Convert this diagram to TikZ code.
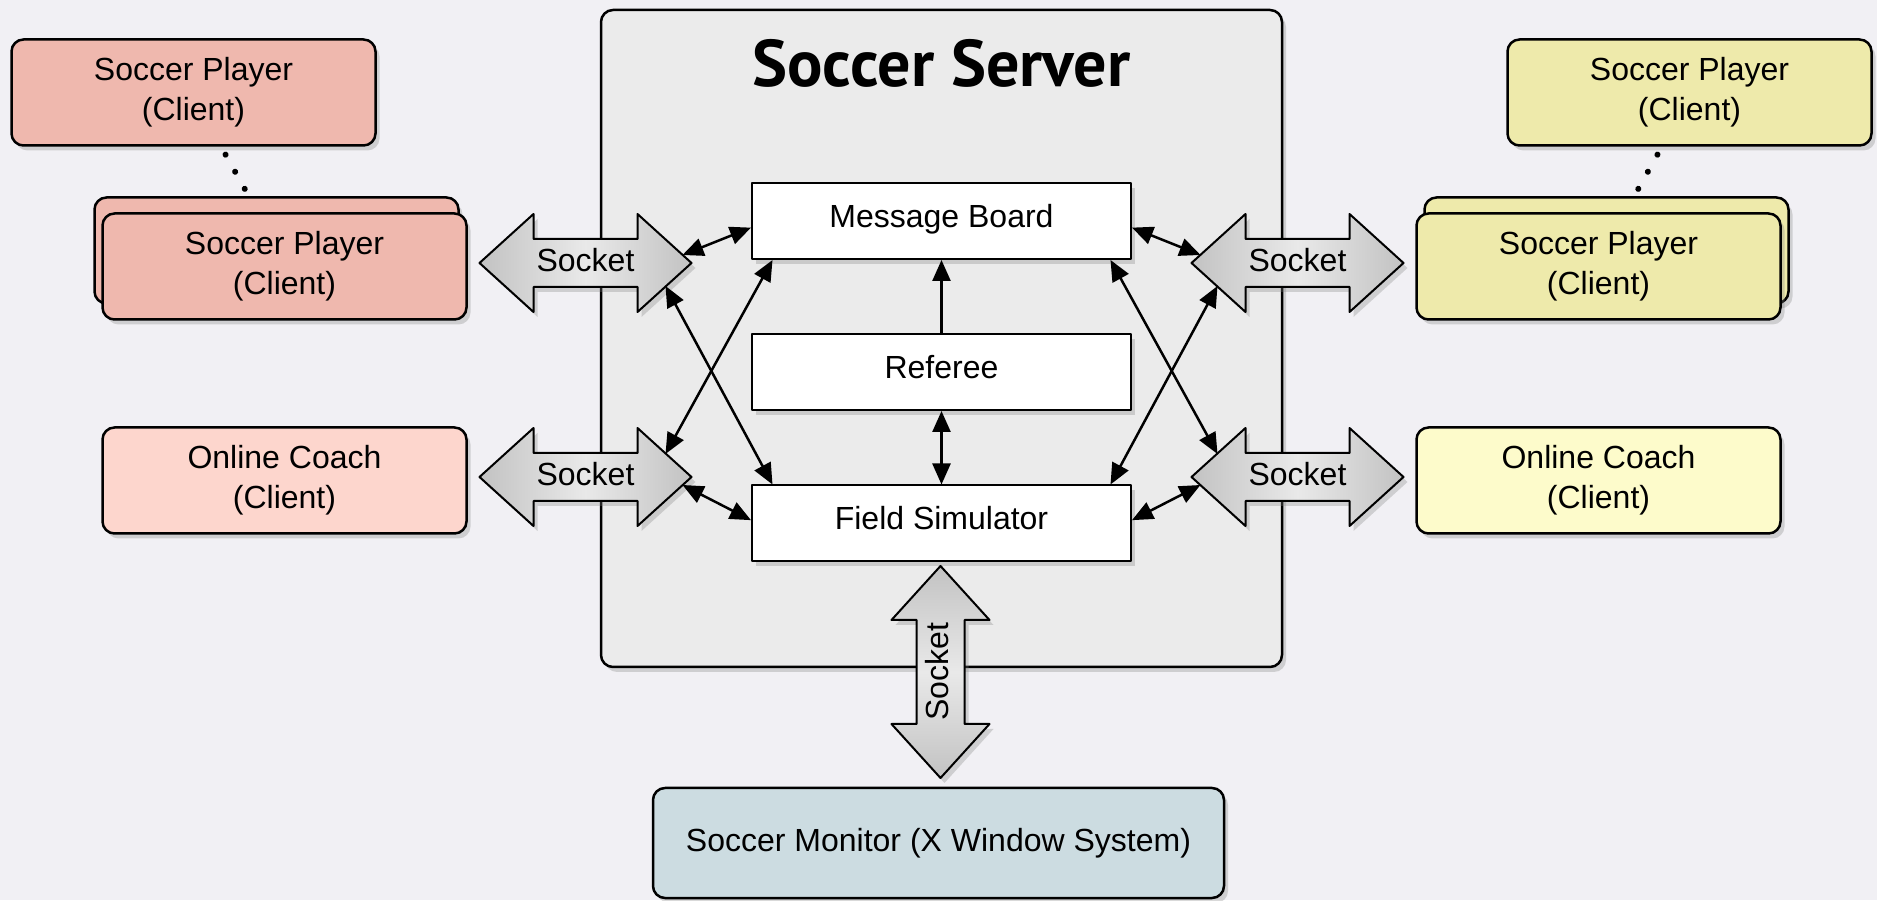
\documentclass[tikz,border=0pt]{standalone}
\usepackage{fontspec}
\setmainfont{Liberation Sans}
\newfontfamily\titlefont{PT Sans}
\usetikzlibrary{arrows.meta}
\usetikzlibrary{shadows}

\definecolor{bgcol}{HTML}{F1F0F4}
\definecolor{servercol}{HTML}{EBEBEB}
\definecolor{playerL}{HTML}{EFB8AE}
\definecolor{coachL}{HTML}{FDD6CD}
\definecolor{playerR}{HTML}{EEEAAB}
\definecolor{coachR}{HTML}{FDFBCB}
\definecolor{moncol}{HTML}{CCDCE1}
\definecolor{sockdark}{HTML}{C2C2C2}
\definecolor{socklight}{HTML}{E9E9E9}

\tikzset{
  shad/.style={drop shadow={shadow xshift=4pt,shadow yshift=-5pt,opacity=0.3}},
  client/.style={draw,line width=2.5pt,rounded corners=12pt,shad,
    minimum width=364pt,minimum height=106pt,align=center,
    font=\fontsize{32}{40}\selectfont},
  inner/.style={draw,fill=white,line width=2pt,shad,text height=23pt,
    text depth=10pt,minimum width=379pt,minimum height=76pt,
    font=\fontsize{32}{40}\selectfont},
  sockshape/.style={draw,line width=2pt,shad,left color=sockdark,
    right color=sockdark,middle color=socklight},
  socktext/.style={inner sep=0pt,font=\fontsize{32}{40}\selectfont},
  conn/.style={<->,line width=2.5pt},
  dots/.style={line width=6pt,line cap=round,dash pattern=on 0.1pt off 19.5pt,
    shorten <=9pt,shorten >=6pt}
}

% socket arrow: name, x, y, angle
\newcommand{\socket}[4]{%
\pgfmathsetmacro{\sockshade}{90-#4}
\begin{scope}[shift={(#2,#3)},rotate=#4]
\draw[sockshape,shading angle=\sockshade] (-106,0) -- (-52,49) -- (-52,24)
  -- (52,24) -- (52,49) -- (106,0) -- (52,-49) -- (52,-24) -- (-52,-24)
  -- (-52,-49) -- cycle;
\node[socktext,rotate=#4] (#1) at (0,3) {Socket};
\coordinate (#1-rup) at (97,8);
\coordinate (#1-rupin) at (80,23);
\coordinate (#1-rdn) at (97,-8);
\coordinate (#1-rdnin) at (80,-23);
\coordinate (#1-lup) at (-97,8);
\coordinate (#1-lupin) at (-80,23);
\coordinate (#1-ldn) at (-97,-8);
\coordinate (#1-ldnin) at (-80,-23);
\end{scope}}

\begin{document}
\begin{tikzpicture}[x=1pt,y=1pt,line join=round,
  >={Triangle[length=21pt,width=18pt]}]
\useasboundingbox (0,0) rectangle (1877,900);
\fill[bgcol] (0,0) rectangle (1877,900);

%server
\node[draw,line width=2.5pt,rounded corners=12pt,fill=servercol,shad,
  minimum width=681pt,minimum height=657pt] (srv) at (941.5,561.5) {};
\node[anchor=base,font=\titlefont\fontsize{66}{72}\selectfont\bfseries] (ttl)
  at (941.5,813) {Soccer Server};

\node[inner] (mb) at (941.5,679) {Message Board};
\node[inner] (ref) at (941.5,528) {Referee};
\node[inner] (fs) at (941.5,376.5) {Field Simulator};

%left clients
\node[client,fill=playerL] (plL) at (193.5,807.5) {Soccer Player\\(Client)};
\node[client,fill=playerL] (pbL) at (276.5,649.5) {};
\node[client,fill=playerL] (pfL) at (284.5,633.5) {Soccer Player\\(Client)};
\node[client,fill=coachL] (ocL) at (284.5,419.5) {Online Coach\\(Client)};

%right clients
\node[client,fill=playerR] (plR) at (1689.5,807.5) {Soccer Player\\(Client)};
\node[client,fill=playerR] (pbR) at (1606.5,649.5) {};
\node[client,fill=playerR] (pfR) at (1598.5,633.5) {Soccer Player\\(Client)};
\node[client,fill=coachR] (ocR) at (1598.5,419.5) {Online Coach\\(Client)};

\node[client,fill=moncol,minimum width=571pt,minimum height=110pt] (mon)
  at (938.5,57) {Soccer Monitor (X Window System)};

\draw[dots] (plL.-63) -- (pbL.117);
\draw[dots] (plR.-117) -- (pbR.63);

%sockets
\socket{sL1}{585.5}{637}{0}
\socket{sL2}{585.5}{423}{0}
\socket{sR1}{1297.5}{637}{0}
\socket{sR2}{1297.5}{423}{0}
\socket{sB}{940.5}{228}{90}

%pfeile
\draw[conn] (sL1-rup) -- (mb.182);
\draw[conn] (sL1-rdnin) -- (fs.167);
\draw[conn] (sL2-rupin) -- (mb.193);
\draw[conn] (sL2-rdn) -- (fs.179);
\draw[conn] (sR1-lup) -- (mb.-2);
\draw[conn] (sR1-ldnin) -- (fs.13);
\draw[conn] (sR2-lupin) -- (mb.-13);
\draw[conn] (sR2-ldn) -- (fs.1);
\draw[->,line width=2.5pt] (ref.north) -- (mb.south);
\draw[conn] (ref.south) -- (fs.north);
\end{tikzpicture}
\end{document}
